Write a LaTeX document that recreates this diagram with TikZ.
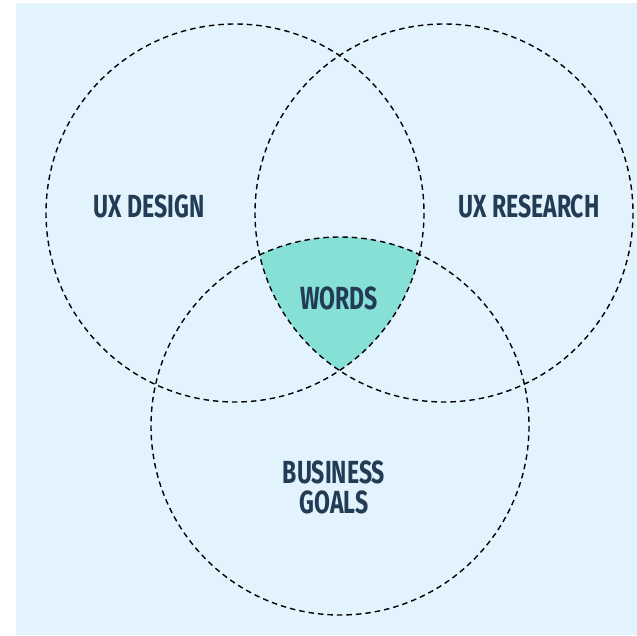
\documentclass[tikz,border=0pt]{standalone}
\usepackage{fontspec}
\usepackage{xcolor}
\newfontfamily\labelfont[FakeStretch=0.72]{Fira Sans}
\definecolor{bgblue}{HTML}{E2F3FD}
\definecolor{wordsteal}{HTML}{86E0D6}
\definecolor{labelnavy}{HTML}{233C55}

\begin{document}
\begin{tikzpicture}[x=1pt, y=-1pt,
  ring/.style={draw=black, line width=1.4pt, dash pattern=on 5.5pt off 4pt},
  area/.style={text=labelnavy, font=\labelfont\bfseries\fontsize{32}{30}\selectfont, align=center}]
\useasboundingbox (0,0) rectangle (637,635);
%% background
\fill[bgblue] (16,3) rectangle (637,635);

%% circle centres
\coordinate (design) at (235,213);
\coordinate (research) at (444,213);
\coordinate (business) at (340,426);

%% shared area
\begin{scope}
\clip (design) circle (189);
\clip (research) circle (189);
\fill[wordsteal] (business) circle (189);
\end{scope}

\draw[ring] (design) circle (189);
\draw[ring] (research) circle (189);
\draw[ring] (business) circle (189);

%% labels
\node[area] (designlabel) at (149,206) {UX DESIGN};
\node[area] (researchlabel) at (529,206) {UX RESEARCH};
\node[area] (wordslabel) at (339,298) {WORDS};
\node[area] (businesslabel) at (334,487) {BUSINESS\\GOALS};

\end{tikzpicture}
\end{document}
